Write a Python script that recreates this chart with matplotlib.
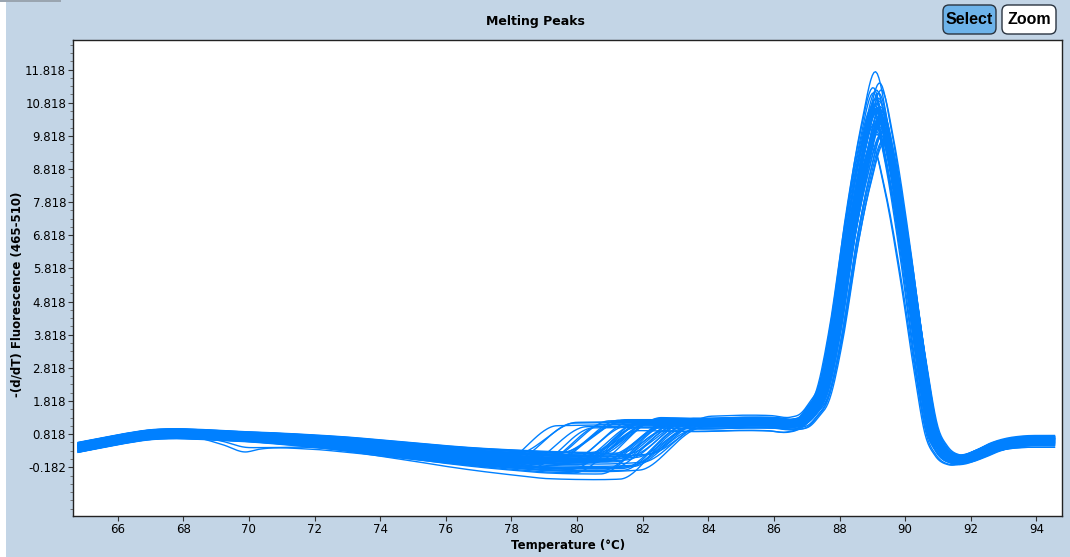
import numpy as np
import matplotlib
matplotlib.use("Agg")
import matplotlib.pyplot as plt
from matplotlib.patches import FancyBboxPatch, Rectangle
from matplotlib.ticker import FixedLocator


# median curve before melting (knots)
low_T = [64.8, 65.5, 66.3, 67.0, 67.6, 68.5, 69.5, 70.5, 72.0, 73.0, 74.0,
         75.0, 76.0, 77.0, 78.0, 79.0, 80.0, 81.0, 82.0, 83.0, 84.0]
low_v = [0.42, 0.55, 0.70, 0.80, 0.83, 0.81, 0.76, 0.71, 0.61, 0.53, 0.43,
         0.33, 0.22, 0.13, 0.06, 0.00, -0.03, -0.03, 0.02, 0.12, 0.27]

# median curve after the shoulder, incl. the main peak (height 10.5)
high_T = [76.0, 78.0, 80.0, 82.0, 84.0, 85.0, 86.0, 86.6, 86.9, 87.15, 87.5,
          87.9, 88.36, 88.75, 89.2, 89.55, 90.05, 90.47, 90.8, 91.1, 91.5,
          91.8, 92.2, 92.7, 93.2, 93.6, 94.6]
high_v = [1.00, 1.10, 1.15, 1.17, 1.14, 1.17, 1.16, 1.12, 1.22, 1.50, 2.10,
          4.00, 7.06, 9.10, 10.50, 9.10, 6.06, 3.05, 1.03, 0.35, 0.05,
          0.06, 0.20, 0.42, 0.55, 0.60, 0.62]
ref_height = 10.5

# per-well values
peak_heights = [
    10.60, 11.20, 10.10, 10.80, 9.90, 10.40, 11.65, 10.30,
    10.70, 9.60, 10.90, 10.50, 10.20, 11.00, 9.80, 10.60,
    10.35, 11.30, 10.00, 10.75, 10.45, 9.45, 10.85, 10.15,
    10.55, 11.10, 9.70, 10.65, 10.25, 10.95, 10.40, 9.95,
    11.40, 10.50, 10.05, 10.80, 9.85, 10.60, 11.05, 10.30,
    10.70, 9.75, 10.45, 10.90, 10.20, 9.55, 10.55, 11.15,
]
peak_shift = [
    0.00, -0.14, 0.10, -0.05, 0.17, 0.03, -0.08, 0.14,
    -0.17, 0.07, -0.03, 0.12, -0.10, 0.02, 0.20, -0.07,
    0.08, -0.15, 0.05, -0.02, 0.15, 0.19, -0.12, 0.03,
    -0.05, 0.10, -0.19, 0.07, 0.00, -0.08, 0.14, -0.03,
    0.05, -0.14, 0.17, -0.07, 0.08, -0.20, 0.02, 0.12,
    -0.10, 0.15, -0.02, 0.03, 0.10, -0.15, 0.07, -0.05,
]
shoulder_T = [
    81.2, 82.4, 80.5, 83.0, 81.8, 79.5, 83.1, 80.9,
    82.7, 81.4, 78.4, 82.2, 80.2, 81.6, 82.3, 80.7,
    82.5, 81.0, 79.0, 82.9, 81.9, 80.4, 82.1, 81.3,
    79.8, 82.6, 81.7, 80.0, 82.8, 81.1, 82.3, 80.8,
    81.5, 83.2, 79.3, 82.0, 80.6, 81.9, 82.4, 81.2,
    80.3, 82.7, 81.6, 78.9, 82.2, 80.9, 81.4, 82.5,
]
offset_early = [
    0.06, -0.10, 0.13, -0.03, 0.04, -0.14, 0.09, 0.00,
    -0.06, 0.15, -0.11, 0.05, -0.01, 0.10, -0.08, 0.03,
    0.11, -0.04, 0.08, -0.13, 0.01, 0.14, -0.09, 0.05,
    -0.05, 0.09, -0.15, 0.04, 0.06, -0.03, 0.13, -0.10,
    0.00, 0.08, -0.06, 0.11, -0.01, 0.03, -0.11, 0.10,
    0.05, -0.08, 0.14, -0.04, 0.01, -0.14, 0.06, 0.04,
]
offset_late = [
    0.12, -0.20, 0.28, -0.05, 0.06, -0.25, 0.17, 0.00,
    -0.12, 0.30, -0.30, 0.09, -0.02, 0.20, -0.52, 0.03,
    0.22, -0.08, 0.14, -0.28, 0.02, 0.25, -0.18, 0.07,
    -0.10, 0.16, -0.35, 0.04, 0.11, -0.06, 0.27, -0.22,
    -0.01, 0.18, -0.14, 0.22, -0.04, 0.08, -0.26, 0.20,
    0.10, -0.16, 0.29, -0.09, 0.01, -0.32, 0.13, 0.05,
]

# two wells that drop below the band around 69-70 C
odd_T = [64.8, 65.5, 66.3, 67.0, 67.6, 68.3, 69.2, 69.9, 70.3, 71.8, 73.0,
         74.4, 76.0, 77.0, 78.0, 79.0, 80.0, 81.0, 82.0, 83.0, 84.0]
odd_v1 = [0.27, 0.42, 0.58, 0.69, 0.74, 0.73, 0.50, 0.28, 0.36, 0.37, 0.27,
          0.12, -0.05, -0.13, -0.20, -0.25, -0.28, -0.27, -0.20, -0.05, 0.15]
odd_v2 = [0.31, 0.45, 0.60, 0.71, 0.76, 0.75, 0.60, 0.42, 0.41, 0.42, 0.34,
          0.20, 0.02, -0.08, -0.15, -0.20, -0.22, -0.20, -0.12, 0.00, 0.20]
odd_heights = [10.4, 10.0]
odd_shift = [0.05, -0.06]
odd_shoulder = [81.8, 82.6]

x_ticks = list(range(66, 95, 2))
y_ticks = [-0.182, 0.818, 1.818, 2.818, 3.818, 4.818, 5.818, 6.818, 7.818,
           8.818, 9.818, 10.818, 11.818]

LINE = "#0080ff"
BG = "#c3d5e6"


def smooth(xk, yk, x):
    xk = np.asarray(xk, float)
    yk = np.asarray(yk, float)
    m = np.gradient(yk, xk)
    x = np.clip(x, xk[0], xk[-1])
    i = np.clip(np.searchsorted(xk, x) - 1, 0, len(xk) - 2)
    h = xk[i + 1] - xk[i]
    t = (x - xk[i]) / h
    return ((2*t**3 - 3*t**2 + 1) * yk[i] + (t**3 - 2*t**2 + t) * h * m[i]
            + (-2*t**3 + 3*t**2) * yk[i + 1] + (t**3 - t**2) * h * m[i + 1])


def step(u):
    u = np.clip(u, 0, 1)
    return 3*u**2 - 2*u**3


T = np.arange(64.8, 94.6, 0.05)
ramp = np.clip((T - 70.0) / 9.0, 0, 1)
low_base = smooth(low_T, low_v, T)


def well_curve(low, height, shift, shoulder, off):
    high = smooth(high_T, high_v, T - shift) * height / ref_height + off
    return low + (high - low) * step((T - shoulder) / 2.0 + 0.5)


fig = plt.figure(figsize=(10.7, 5.57), dpi=100)
fig.patch.set_facecolor(BG)
ax = fig.add_axes([73/1070, 1 - 516/557, (1062 - 73)/1070, (516 - 40)/557])
ax.set_facecolor("white")

for h, dt, sh, e0, e1 in zip(peak_heights, peak_shift, shoulder_T, offset_early, offset_late):
    low = low_base + e0 + (e1 - e0) * ramp
    ax.plot(T, well_curve(low, h, dt, sh, e0), color=LINE, lw=1.0)

for v, h, dt, sh in zip([odd_v1, odd_v2], odd_heights, odd_shift, odd_shoulder):
    low = smooth(odd_T, v, T)
    ax.plot(T, well_curve(low, h, dt, sh, -0.05), color=LINE, lw=1.0)

ax.set_xlim(64.64, 94.78)
ax.set_ylim(-1.652, 12.71)
ax.set_xticks(x_ticks)
ax.set_yticks(y_ticks)
ax.set_yticklabels([f"{v:.3f}" for v in y_ticks])
ax.yaxis.set_minor_locator(FixedLocator(np.arange(-1.432, 12.7, 0.25)))
ax.tick_params(axis="both", which="major", direction="out", length=3.5,
               width=0.8, labelsize=8.5, pad=1.5, color="#333333")
ax.tick_params(axis="y", which="minor", direction="out", length=2,
               width=0.6, color="#666666")
for s in ax.spines.values():
    s.set_color("#222222")
    s.set_linewidth(1.0)

fig.text(0.5, 1 - 22/557, "Melting Peaks", ha="center", va="center",
         fontsize=9, fontweight="bold")
fig.text(568/1070, 1 - 545/557, "Temperature (°C)", ha="center", va="center",
         fontsize=8.5, fontweight="bold")
fig.text(17/1070, 1 - 294/557, "-(d/dT) Fluorescence (465-510)", ha="center",
         va="center", rotation=90, fontsize=8.5, fontweight="bold")

# buttons at the top right
for x0, w, label, fill in [(943, 53, "Select", "#6db3ea"), (1002, 54, "Zoom", "white")]:
    box = FancyBboxPatch((x0/100, (557 - 34)/100), w/100, 0.29,
                         boxstyle="round,pad=0,rounding_size=0.06",
                         transform=fig.dpi_scale_trans, facecolor=fill,
                         edgecolor="#2a3440", lw=1.0)
    fig.patches.append(box)
    fig.text((x0 + w/2)/1070, 1 - 20/557, label, ha="center", va="center",
             fontsize=11.5, fontweight="bold", family="Liberation Sans")

# window edges
fig.patches.append(Rectangle((0, 0), 6/1070, 1, transform=fig.transFigure,
                             facecolor="white", edgecolor="none"))
fig.patches.append(Rectangle((0, 1 - 2/557), 61/1070, 2/557, transform=fig.transFigure,
                             facecolor="#9aa5b0", edgecolor="none"))

fig.savefig("out.png", dpi=100, facecolor=fig.get_facecolor())
